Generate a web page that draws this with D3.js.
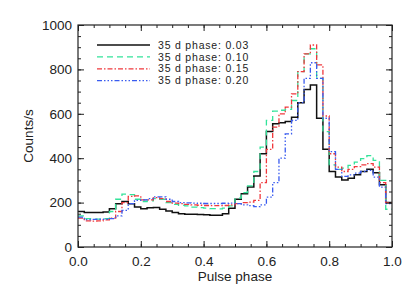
<!DOCTYPE html>
<style>
	body { margin: 0; background: #fff; }
	text { font-family: "Liberation Sans", Arial, sans-serif; fill: #222; }
	.axis .domain { display: none; }
	.axis line { stroke: #222; }
</style>
<svg width="415" height="297"></svg>
<script src="https://d3js.org/d3.v7.min.js"></script>
<script>

	// pulse profiles, 50 phase bins of 0.02
	var labels = ["35 d phase: 0.03", "35 d phase: 0.10", "35 d phase: 0.15", "35 d phase: 0.20"];

	var p003 = [160,155,155,155,158,172,195,205,195,180, 172,177,178,170,162,155,150,148,147,146,
		145,143,143,150,175,215,240,270,320,420, 520,555,560,565,585,650,710,730,580,440,
		340,315,302,310,325,340,350,335,280,200];
	var p010 = [140,128,126,126,128,160,215,238,236,215, 205,208,218,215,200,192,188,185,180,177,
		175,173,172,175,185,220,245,275,340,450, 570,612,616,620,660,790,870,893,760,520,
		370,350,355,368,382,398,412,390,300,170];
	var p015 = [130,118,117,118,122,130,160,200,228,230, 212,212,222,218,205,198,195,192,190,188,
		187,186,186,187,190,195,200,202,210,290, 440,540,600,630,690,790,870,910,820,590,
		420,360,340,350,362,370,376,360,290,200];
	var p020 = [135,123,124,125,125,128,140,165,195,210, 212,218,226,226,215,205,200,199,198,197,
		196,196,196,197,198,195,190,186,182,190, 225,290,400,510,570,650,760,830,760,580,
		430,350,318,325,333,340,345,315,270,195];

	var series = [p003, p010, p015, p020];
	var colors = ["#111111", "#33e39a", "#f0383c", "#3a5cf0"];
	var dashes = [null, "6,4", "5,2,1.5,2", "5,2,1.5,2,1.5,2,1.5,2"];
	var widths = [1.5, 1.3, 1.3, 1.3];

	var svg = d3.select("svg"),
		margin = {top: 25, right: 23, bottom: 50, left: 78},
		width = +svg.attr("width") - margin.left - margin.right,
		height = +svg.attr("height") - margin.top - margin.bottom,
		g = svg.append("g").attr("transform", "translate(" + margin.left + "," + margin.top + ")");

	var x = d3.scaleLinear().domain([0, 1]).range([0, width]);
	var y = d3.scaleLinear().domain([0, 1000]).range([height, 0]);

	var nb = p003.length;
	var line = d3.line()
		.x(function(d) { return x(d[0]); })
		.y(function(d) { return y(d[1]); })
		.curve(d3.curveStepAfter);

	series.forEach(function(s, k) {
		var pts = s.map(function(v, i) { return [i / nb, v]; });
		pts.push([1, s[nb - 1]]);
		g.append("path")
			.datum(pts)
			.attr("fill", "none")
			.attr("stroke", colors[k])
			.attr("stroke-width", widths[k])
			.attr("stroke-dasharray", dashes[k])
			.attr("d", line);
	});

	// box + inward ticks on all sides
	var xMinor = d3.range(0, 1.0001, 0.05), yMinor = d3.range(0, 1001, 50);
	var none = function() { return ""; };

	g.append("g").attr("class", "axis").attr("transform", "translate(0," + height + ")")
		.call(d3.axisBottom(x).tickValues(xMinor).tickFormat(none).tickSize(-3));
	g.append("g").attr("class", "axis").attr("transform", "translate(0," + height + ")")
		.call(d3.axisBottom(x).ticks(5).tickFormat(d3.format(".1f")).tickSize(-6).tickPadding(9))
		.selectAll("text").style("font-size", "13.5px");
	g.append("g").attr("class", "axis")
		.call(d3.axisTop(x).tickValues(xMinor).tickFormat(none).tickSize(-3));
	g.append("g").attr("class", "axis")
		.call(d3.axisTop(x).ticks(5).tickFormat(none).tickSize(-6));

	g.append("g").attr("class", "axis")
		.call(d3.axisLeft(y).tickValues(yMinor).tickFormat(none).tickSize(-3));
	g.append("g").attr("class", "axis")
		.call(d3.axisLeft(y).ticks(5).tickFormat(d3.format("d")).tickSize(-6).tickPadding(6))
		.selectAll("text").style("font-size", "13.5px");
	g.append("g").attr("class", "axis").attr("transform", "translate(" + width + ",0)")
		.call(d3.axisRight(y).tickValues(yMinor).tickFormat(none).tickSize(-3));
	g.append("g").attr("class", "axis").attr("transform", "translate(" + width + ",0)")
		.call(d3.axisRight(y).ticks(5).tickFormat(none).tickSize(-6));

	g.append("rect")
		.attr("width", width).attr("height", height)
		.attr("fill", "none").attr("stroke", "#222").attr("stroke-width", 1.2);

	// axis titles
	svg.append("text")
		.attr("x", margin.left + width / 2)
		.attr("y", 281)
		.attr("text-anchor", "middle")
		.style("font-size", "13.5px")
		.text("Pulse phase");

	svg.append("text")
		.attr("transform", "translate(33," + (margin.top + height / 2) + ") rotate(-90)")
		.attr("text-anchor", "middle")
		.style("font-size", "13.5px")
		.text("Counts/s");

	// legend
	var legend = g.append("g")
		.selectAll("g")
		.data(labels)
		.enter().append("g")
		.attr("transform", function(d, i) { return "translate(0," + (20 + i * 11.9) + ")"; });

	legend.append("line")
		.attr("x1", 19).attr("x2", 72)
		.attr("stroke", function(d, i) { return colors[i]; })
		.attr("stroke-width", function(d, i) { return widths[i]; })
		.attr("stroke-dasharray", function(d, i) { return dashes[i]; });

	legend.append("text")
		.attr("x", 80)
		.attr("dy", "0.35em")
		.style("font-size", "10.5px")
		.style("letter-spacing", "0.8px")
		.text(function(d) { return d; });

</script>
